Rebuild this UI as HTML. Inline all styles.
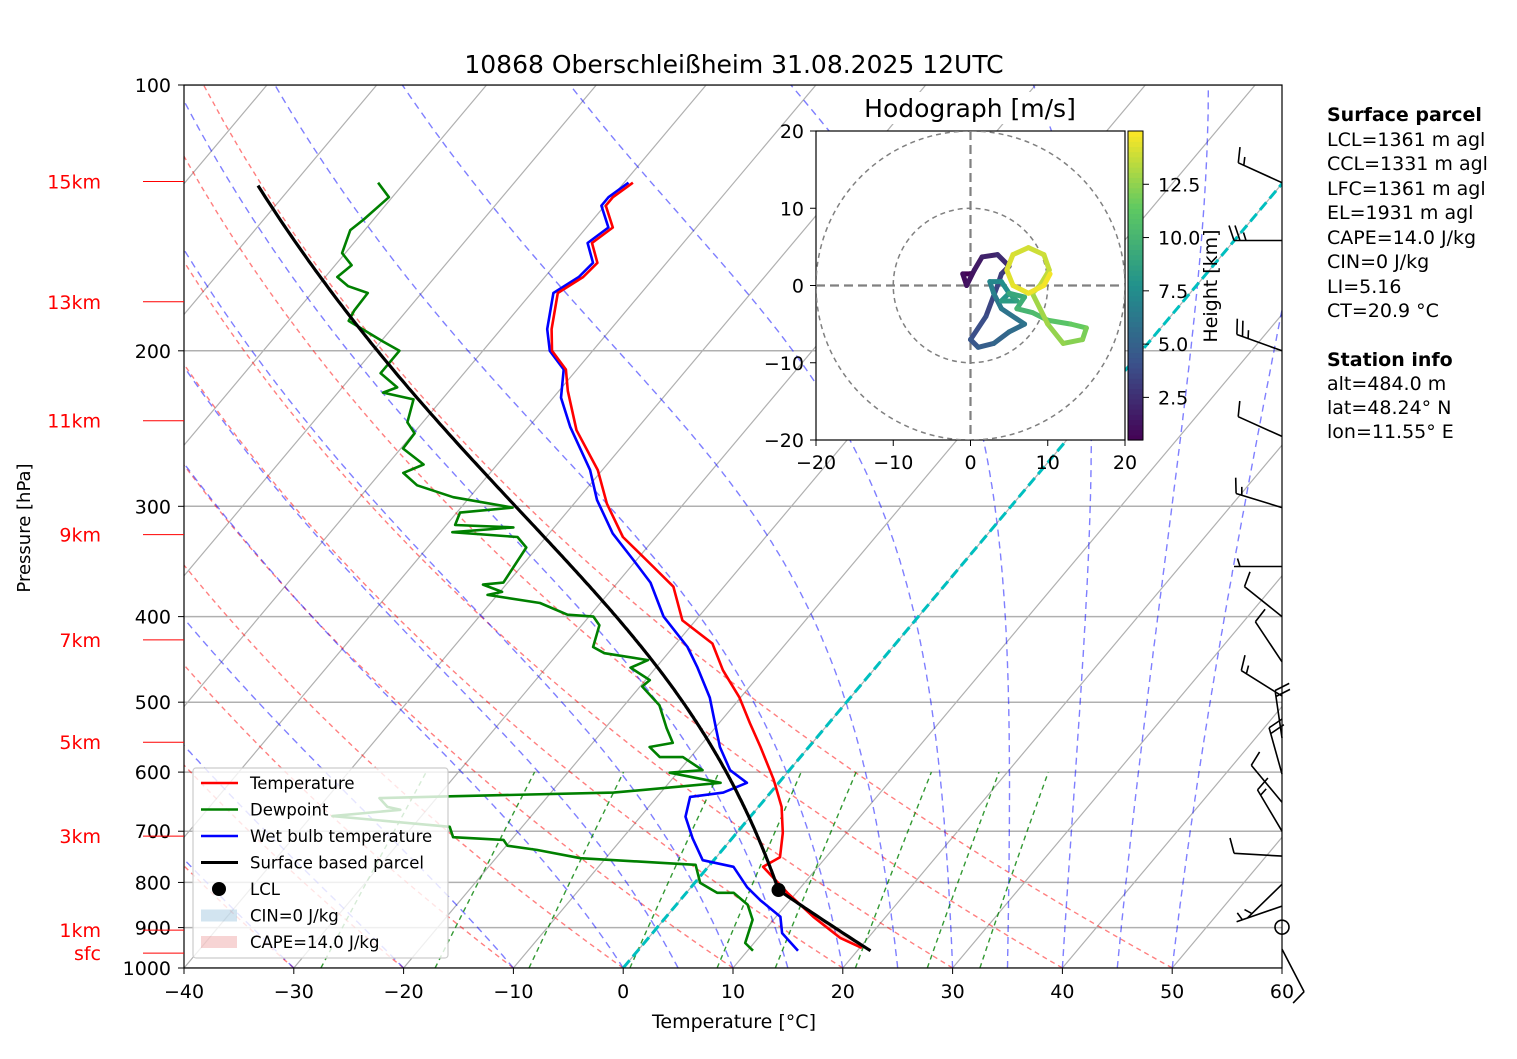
<!DOCTYPE html>
<html><head><meta charset="utf-8"><style>
body{margin:0;background:#fff}
svg text{font-family:"DejaVu Sans","Liberation Sans",sans-serif}
</style></head><body>
<svg id="s" width="1517" height="1054" viewBox="0 0 1517 1054" xmlns="http://www.w3.org/2000/svg">
<defs><clipPath id="clipMain"><rect x="184" y="85" width="1098" height="883"/></clipPath>
<clipPath id="clipHodo"><rect x="816" y="131" width="309" height="309"/></clipPath></defs>
<rect width="1517" height="1054" fill="#fff"/>
<g id="bg" clip-path="url(#clipMain)"></g>
<g id="prof" clip-path="url(#clipMain)"></g>
<g id="barbs"></g>
<rect x="184" y="85" width="1098" height="883" fill="none" stroke="#000" stroke-width="1.2"/>
<g id="axes"></g>
<text x="734" y="73" text-anchor="middle" font-size="25">10868 Oberschleißheim 31.08.2025 12UTC</text>
<text x="0" y="0" transform="translate(30,528) rotate(-90)" text-anchor="middle" font-size="18">Pressure [hPa]</text>
<text x="734" y="1028" text-anchor="middle" font-size="19">Temperature [°C]</text>
<g id="hodo"></g>
<g id="legend"></g>
<g font-size="19">
<text x="1327" y="121" font-weight="bold">Surface parcel</text>
<text x="1327" y="146">LCL=1361 m agl</text>
<text x="1327" y="170">CCL=1331 m agl</text>
<text x="1327" y="195">LFC=1361 m agl</text>
<text x="1327" y="219">EL=1931 m agl</text>
<text x="1327" y="244">CAPE=14.0 J/kg</text>
<text x="1327" y="268">CIN=0 J/kg</text>
<text x="1327" y="293">LI=5.16</text>
<text x="1327" y="317">CT=20.9 °C</text>
<text x="1327" y="366" font-weight="bold">Station info</text>
<text x="1327" y="390">alt=484.0 m</text>
<text x="1327" y="414">lat=48.24° N</text>
<text x="1327" y="438">lon=11.55° E</text>
</g>
</svg>
<script>
// ---- data ----
const tempP=[949,925,875,822,768,749,703,657,612,562,528,494,460,429,404,370,351,325,298,273,246,222,210,200,189,172,165,159,151,145,137,134,129];
const tempT=[20.2,17.5,13.4,9.2,5.0,5.8,4.2,2.1,-0.7,-4.4,-7.2,-10.1,-13.7,-16.7,-21.2,-24.6,-28.0,-33.0,-37.0,-40.4,-45.4,-49.2,-51.0,-53.7,-55.4,-57.6,-56.5,-56.3,-58.3,-57.6,-59.9,-59.9,-59.2];
const wbP=[956,913,875,838,810,768,755,713,674,640,633,617,597,562,538,494,456,433,400,366,345,322,295,273,244,226,210,200,189,172,165,159,151,145,137,134,129];
const wbT=[14.6,11.8,10.4,7.3,5.1,2.3,-1.0,-3.6,-5.9,-7.0,-4.3,-2.9,-5.4,-8.1,-9.7,-12.8,-16.3,-18.7,-23.2,-27.0,-30.3,-34.2,-38.2,-41.1,-46.2,-49.3,-51.2,-53.9,-55.8,-58.0,-56.9,-56.7,-58.7,-58.0,-60.3,-60.3,-59.6];
const dewP=[956,937,882,848,822,822,801,764,762,751,735,727,716,711,692,673,662,657,642,639,633,617,601,597,577,577,562,556,535,504,480,472,457,448,440,433,409,400,398,386,378,375,368,366,334,325,321,317,315,305,301,293,284,275,269,258,248,241,227,223,220,212,200,195,185,180,172,169,165,160,155,146,142,134,129];
const dewT=[10.5,9.2,8.1,6.5,4.3,2.8,0.5,-1.3,-3.0,-12.3,-16.9,-19.9,-20.7,-25.5,-26.6,-38.1,-32.4,-33.8,-35.2,-28.9,-14.3,-5.3,-10.7,-7.9,-10.7,-12.8,-14.5,-12.7,-14.4,-16.8,-19.8,-19.6,-22.3,-21.3,-25.8,-27.3,-28.4,-29.6,-32.1,-35.5,-40.9,-39.8,-42.1,-40.4,-41.0,-42.6,-48.9,-43.7,-49.2,-49.7,-45.3,-51.5,-55.7,-57.9,-56.7,-59.8,-59.9,-61.4,-62.6,-65.9,-65.0,-67.6,-67.6,-69.9,-74.5,-74.8,-74.9,-77.2,-78.9,-78.5,-80.3,-81.3,-80.9,-80.3,-82.4];
const parcelStartP=956, parcelStartT=21.2, lclP=816, parcelTopP=129;
const xTicks=[-40,-30,-20,-10,0,10,20,30,40,50,60];
const pTicks=[100,200,300,400,500,600,700,800,900,1000];
const kmLabels=['15km','13km','11km','9km','7km','5km','3km','1km','sfc'];
const kmP=[128.6,176,240,323,425,555,709,906,962];
const dryTheta=[-40,-30,-20,-10,0,10,20,30,40,50];
const moistT0=[-40,-30,-20,-10,0,5,10,15,20,25,30,35,40,45,50];
const mixW=[0.0004,0.001,0.002,0.004,0.007,0.01,0.016,0.024,0.032];
const hodoH=[0.5,1.0,1.3,1.6,2.0,2.4,2.8,3.2,3.6,4.0,4.4,4.8,5.2,5.6,6.0,6.4,6.8,7.2,7.6,8.0,8.4,8.8,9.2,9.6,10.0,10.5,11.0,11.5,12.0,12.3,12.6,12.9,13.2,13.6,13.75,13.9,14.05,14.2,14.35,14.5,14.65,14.8,15.0];
const hodoU=[0,-1,-0.5,0.5,1.5,3.5,5,4,3.5,2,0,1,3,5,7,4,3,2.5,4,5,4,6,5,7,6,8,10,13,15,14.5,12,10,8,9,10.2,9.5,7.5,5.5,4.7,5.5,7.5,9.5,10.3];
const hodoV=[1.5,1.5,0,2,3.7,4,2.5,1.5,0,-4,-7,-8,-7.5,-6,-5,-3,-1,0.5,0.5,-1,-2,-2,-1,-1.5,-3,-3.5,-4.5,-5,-5.5,-7,-7.5,-5,-1,0,2,4,4.9,4,2,0,-1,0,1.5];
const barbP=[129,150,200,250,301,351,400,450,492,549,603,649,700,747,804,851,952];
const barbDx=[-44,-49,-47,-49,-49,-50,-40,-30,-40,-7,-14,-35,-32,-50,-35,-35,26];
const barbDy=[-20,0,-17,-22,-15,0,-32,-45,-25,-48,-50,-42,-54,-3,34,12,50];
const barbKt=[15,25,25,10,15,5,10,10,15,20,20,10,15,10,5,5,10];
const calmP=[899];

// ---- scales ----
const Y=p=>968-883*Math.log10(1000/p);
const X=(T,p)=>184+(T+40)*10.98+0.84*(968-Y(p));
const NS='http://www.w3.org/2000/svg';
function mk(tag,attrs,parent){const e=document.createElementNS(NS,tag);for(const k in attrs)e.setAttribute(k,attrs[k]);parent.appendChild(e);return e;}
const bg=document.getElementById('bg'),prof=document.getElementById('prof');
function pathFrom(ps,ts){return ps.map((p,i)=>(i?'L':'M')+X(ts[i],p).toFixed(1)+','+Y(p).toFixed(1)).join('');}
const pLevels=[];for(let p=1000;p>=100;p-=10)pLevels.push(p);

for(const p of pTicks){const l=mk('line',{x1:184,x2:1282,y1:Y(p),y2:Y(p),stroke:'#b0b0b0','stroke-width':1.5},bg);

}
for(let T=-120;T<=60;T+=10){const l=mk('line',{x1:X(T,1000),y1:Y(1000),x2:X(T,100),y2:Y(100),stroke:'#b0b0b0','stroke-width':1.2},bg);

}
for(const th of dryTheta){const ts=pLevels.map(p=>(th+273.15)*Math.pow(p/1000,0.2857)-273.15);
const e=mk('path',{d:pathFrom(pLevels,ts),fill:'none',stroke:'rgba(255,0,0,0.5)','stroke-width':1.4,'stroke-dasharray':'5,4'},bg);

}
function es(Tc){return 6.112*Math.exp(17.67*Tc/(Tc+243.5));}
function dTdp(TK,p){const eps=0.622,Rd=287.04,Cp=1005.7,Lv=2.501e6;const e=es(TK-273.15);const rs=eps*e/(p-e);
return (Rd*TK+Lv*rs)/(p*(Cp+Lv*Lv*rs*eps/(Rd*TK*TK)));}
function moist(T0c,p0,p1){const ps=[],ts=[];let T=T0c+273.15,p=p0;const step=-2;ps.push(p);ts.push(T-273.15);
while(p+step>=p1-1e-6){const k1=dTdp(T,p),k2=dTdp(T+k1*step/2,p+step/2),k3=dTdp(T+k2*step/2,p+step/2),k4=dTdp(T+k3*step,p+step);
T+=step*(k1+2*k2+2*k3+k4)/6;p+=step;ps.push(p);ts.push(T-273.15);}return [ps,ts];}
for(const T0 of moistT0){const [ps,ts]=moist(T0,1000,100);
const e=mk('path',{d:pathFrom(ps,ts),fill:'none',stroke:'rgba(0,0,255,0.5)','stroke-width':1.4,'stroke-dasharray':'7,5'},bg);

}
for(const w of mixW){const ps=[1000,900,800,700,600];const ts=ps.map(p=>{const e=p*w/(0.622+w);const a=Math.log(e/6.112);return 243.5*a/(17.67-a);});
const e=mk('path',{d:pathFrom(ps,ts),fill:'none',stroke:'rgba(0,128,0,0.8)','stroke-width':1.4,'stroke-dasharray':'5,4'},bg);

}
{const e=mk('line',{x1:X(0,1000),y1:Y(1000),x2:X(0,100),y2:Y(100),stroke:'#00bfbf','stroke-width':3,'stroke-dasharray':'10,5'},bg);

}

const thK=(parcelStartT+273.15);const lclT=thK*Math.pow(lclP/parcelStartP,0.2857)-273.15;
const dryP=[],dryT=[];for(let p=parcelStartP;p>=lclP;p-=5){dryP.push(p);dryT.push(thK*Math.pow(p/parcelStartP,0.2857)-273.15);}
dryP.push(lclP);dryT.push(lclT);
const [mP,mT]=moist(lclT,lclP,parcelTopP);
{let d=pathFrom(dryP,dryT);const tp=[],tt=[];for(let i=0;i<tempP.length;i++){if(tempP[i]>=lclP-2){tp.push(tempP[i]);tt.push(tempT[i]);}}
const back=tp.map((p,i)=>'L'+X(tt[i],p).toFixed(1)+','+Y(p).toFixed(1)).reverse().join('');
const e=mk('path',{d:d+back+'Z',fill:'rgba(255,0,0,0.18)'},prof);

}
function line(ps,ts,col,w,name){const e=mk('path',{d:pathFrom(ps,ts),fill:'none',stroke:col,'stroke-width':w,'stroke-linejoin':'round'},prof);

}
line(dewP,dewT,'#008000',2.6,'dewpoint-line');
line(wbP,wbT,'#0000ff',2.6,'wetbulb-line');
line(tempP,tempT,'#ff0000',2.6,'temperature-line');
line(dryP.concat(mP),dryT.concat(mT),'#000',3.2,'parcel-line');
{const e=mk('circle',{cx:X(lclT,lclP),cy:Y(lclP),r:7,fill:'#000'},prof);

}

const ax=document.getElementById('axes');
for(const T of xTicks){const x=184+(T+40)*10.98;mk('line',{x1:x,x2:x,y1:968,y2:974,stroke:'#000'},ax);
const t=mk('text',{x:x,y:998,'text-anchor':'middle','font-size':19},ax);t.textContent=(T<0?'−':'')+Math.abs(T);

}
for(const p of pTicks){mk('line',{x1:178,x2:184,y1:Y(p),y2:Y(p),stroke:'#000'},ax);
const t=mk('text',{x:171,y:Y(p)+7,'text-anchor':'end','font-size':19},ax);t.textContent=p;

}
kmLabels.forEach((k,i)=>{const y=Y(kmP[i]);mk('line',{x1:143,x2:184,y1:y,y2:y,stroke:'#ff0000','stroke-width':1},ax);
const t=mk('text',{x:101,y:y+7,'text-anchor':'end','font-size':19,fill:'#ff0000'},ax);t.textContent=k;

});

const bb=document.getElementById('barbs');
barbP.forEach((p,i)=>{const bx=1282,by=Y(p);const L=Math.hypot(barbDx[i],barbDy[i]);const ux=barbDx[i]/L,uy=barbDy[i]/L;
const tx=bx+ux*48,ty=by+uy*48;let d='M'+bx+','+by.toFixed(1)+'L'+tx.toFixed(1)+','+ty.toFixed(1);
const px=-uy,py=ux;let kt=barbKt[i],pos=0;
while(kt>=10){const sx=tx-ux*pos,sy=ty-uy*pos;d+='M'+sx.toFixed(1)+','+sy.toFixed(1)+'l'+((px*15+ux*5)).toFixed(1)+','+((py*15+uy*5)).toFixed(1);kt-=10;pos+=6;}
if(kt>=5){if(pos===0)pos=6;const sx=tx-ux*pos,sy=ty-uy*pos;d+='M'+sx.toFixed(1)+','+sy.toFixed(1)+'l'+((px*8+ux*2.5)).toFixed(1)+','+((py*8+uy*2.5)).toFixed(1);}
const e=mk('path',{d:d,stroke:'#000','stroke-width':1.6,fill:'none'},bb);

});
calmP.forEach(p=>{const e=mk('circle',{cx:1282,cy:Y(p),r:7,fill:'none',stroke:'#000','stroke-width':1.6},bb);

});

const hg=document.getElementById('hodo');
const hx=u=>970.5+u*7.725,hy=v=>285.5-v*7.725;
{const r=mk('rect',{x:855,y:92,width:232,height:32,fill:'#fff'},hg);


const r2=mk('rect',{x:816,y:131,width:309,height:309,fill:'#fff',stroke:'#000','stroke-width':1.2},hg);


const t=mk('text',{x:970,y:117,'text-anchor':'middle','font-size':25},hg);t.textContent='Hodograph [m/s]';

}
const hc=mk('g',{'clip-path':'url(#clipHodo)'},hg);
[10,20].forEach(r=>{const c=mk('circle',{cx:hx(0),cy:hy(0),r:r*7.725,fill:'none',stroke:'#808080','stroke-width':1.5,'stroke-dasharray':'5,4'},hc);

});
mk('line',{x1:816,x2:1125,y1:hy(0),y2:hy(0),stroke:'#808080','stroke-width':2.2,'stroke-dasharray':'9,5'},hc);
mk('line',{y1:131,y2:440,x1:hx(0),x2:hx(0),stroke:'#808080','stroke-width':2.2,'stroke-dasharray':'9,5'},hc);
const vir=[[68,1,84],[59,82,139],[33,145,140],[94,201,98],[253,231,37]];
function viridis(t){t=Math.max(0,Math.min(1,t))*4;const i=Math.min(3,Math.floor(t)),f=t-i;const a=vir[i],b=vir[i+1];return 'rgb('+a.map((v,k)=>Math.round(v+(b[k]-v)*f)).join(',')+')';}
const hMin=hodoH[0],hMax=hodoH[hodoH.length-1];
for(let i=0;i<hodoH.length-1;i++){const c=viridis((hodoH[i]-hMin)/(hMax-hMin));
const e=mk('line',{x1:hx(hodoU[i]),y1:hy(hodoV[i]),x2:hx(hodoU[i+1]),y2:hy(hodoV[i+1]),stroke:c,'stroke-width':5,'stroke-linecap':'round'},hc);

}
[-20,-10,0,10,20].forEach(v=>{const x=hx(v);mk('line',{x1:x,x2:x,y1:440,y2:446,stroke:'#000'},hg);
const t=mk('text',{x:x,y:469,'text-anchor':'middle','font-size':19},hg);t.textContent=(v<0?'−':'')+Math.abs(v);


const y=hy(v);mk('line',{x1:810,x2:816,y1:y,y2:y,stroke:'#000'},hg);
const t2=mk('text',{x:804,y:y+7,'text-anchor':'end','font-size':19},hg);t2.textContent=(v<0?'−':'')+Math.abs(v);

});
for(let k=0;k<60;k++){const y=440-(k+1)*309/60;const r=mk('rect',{x:1128,y:y,width:15,height:309/60+0.6,fill:viridis((k+0.5)/60)},hg);

}
mk('rect',{x:1128,y:131,width:15,height:309,fill:'none',stroke:'#000','stroke-width':1},hg);
const cbTicks=[2.5,5.0,7.5,10.0,12.5];
cbTicks.forEach(v=>{const y=440-(v-hMin)/(hMax-hMin)*309;mk('line',{x1:1143,x2:1149,y1:y,y2:y,stroke:'#000'},hg);
const t=mk('text',{x:1158,y:y+7,'font-size':19},hg);t.textContent=v.toFixed(1);

});
{const t=mk('text',{transform:'translate(1217,286) rotate(-90)','text-anchor':'middle','font-size':19},hg);t.textContent='Height [km]';

}

const lg=document.getElementById('legend');
{const r=mk('rect',{x:193,y:768,width:255,height:190,fill:'rgba(255,255,255,0.8)',stroke:'#ccc','stroke-width':1.2,rx:3},lg);

}
const legItems=[['Temperature','line','#ff0000'],['Dewpoint','line','#008000'],['Wet bulb temperature','line','#0000ff'],['Surface based parcel','line','#000'],['LCL','dot','#000'],['CIN=0 J/kg','patch','rgba(31,119,180,0.2)'],['CAPE=14.0 J/kg','patch','rgba(214,39,40,0.2)']];
legItems.forEach((it,i)=>{const y=783+i*26.5;const g=mk('g',{},lg);


if(it[1]==='line')mk('line',{x1:201,x2:238,y1:y,y2:y,stroke:it[2],'stroke-width':it[2]==='#000'?3:2.5},g);
else if(it[1]==='dot')mk('circle',{cx:219,cy:y,r:7,fill:'#000'},g);
else mk('rect',{x:201,y:y-6,width:36,height:12,fill:it[2]},g);
const t=mk('text',{x:250,y:y+6,'font-size':16.5},g);t.textContent=it[0];});
</script>
</body></html>
